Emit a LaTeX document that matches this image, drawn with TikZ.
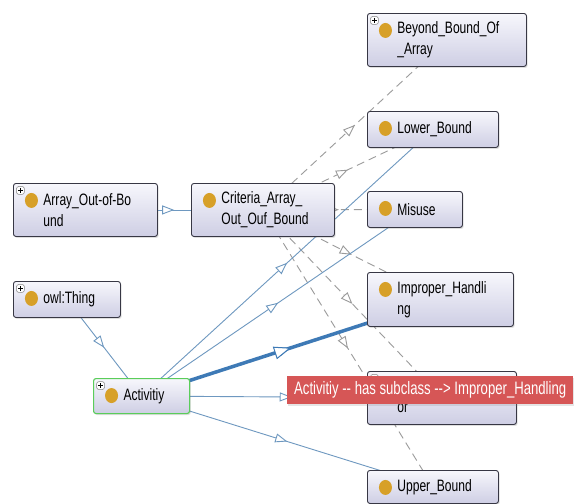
\documentclass[tikz,border=0pt]{standalone}
\usepackage{fontspec}
\setmainfont{Liberation Sans}[FakeStretch=0.73]
\usetikzlibrary{arrows.meta,decorations.markings,backgrounds,shadows}
\definecolor{boxline}{RGB}{55,55,68}
\definecolor{boxtop}{RGB}{247,247,252}
\definecolor{boxbot}{RGB}{206,206,228}
\definecolor{dotcol}{RGB}{215,160,40}
\definecolor{edgeblue}{RGB}{110,152,192}
\definecolor{hlblue}{RGB}{62,122,182}
\definecolor{dashgray}{RGB}{155,155,155}
\definecolor{actgreen}{RGB}{90,205,90}
\definecolor{tipred}{RGB}{214,86,86}

\begin{document}
\begin{tikzpicture}[x=1pt,y=-1pt,
  cls/.style={draw=boxline,line width=0.9pt,rounded corners=2.5pt,top color=boxtop,bottom color=boxbot,
    anchor=north west,align=left,inner xsep=6pt,inner ysep=0pt,font=\fontsize{16.5}{21}\selectfont,
    execute at begin node={\leftskip=24pt},
    drop shadow={opacity=0.25,shadow xshift=1.2pt,shadow yshift=-1.5pt},
    path picture={\fill[dotcol] ([xshift=18pt,yshift=-17pt]path picture bounding box.north west) ellipse (6.5pt and 7.5pt);}},
  clsplus/.style={cls,
    path picture={\fill[dotcol] ([xshift=18pt,yshift=-17pt]path picture bounding box.north west) ellipse (6.5pt and 7.5pt);
      \draw[fill=white,draw=gray,line width=0.5pt] ([xshift=3pt,yshift=-3pt]path picture bounding box.north west) rectangle ++(8pt,-8pt);
      \draw[black,line width=0.6pt] ([xshift=7pt,yshift=-4.5pt]path picture bounding box.north west) -- ++(0pt,-5pt)
        ([xshift=4.5pt,yshift=-7pt]path picture bounding box.north west) -- ++(5pt,0pt);}},
  tipbox/.style={fill=tipred,text=white,anchor=north west,minimum width=286pt,minimum height=28pt,
    inner xsep=5pt,font=\fontsize{18}{20}\selectfont,drop shadow={opacity=0.2,shadow xshift=1pt,shadow yshift=-1.5pt}},
  sub/.style={edgeblue,line width=0.9pt,postaction={decorate},
    decoration={markings,mark=at position 0.5 with {\arrow{Triangle[fill=white,length=12pt,width=9pt,line width=0.9pt]}}}},
  subhl/.style={sub,hlblue,line width=3.5pt,
    decoration={markings,mark=at position 0.5 with {\arrow{Triangle[fill=white,length=17pt,width=13pt,line width=1pt]}}}},
  subdash/.style={sub,dashgray,dash pattern=on 8pt off 5pt}]
        \useasboundingbox (0,0) rectangle (574,504);
        % classes, right column
        \node[clsplus,text width=147pt,minimum height=53pt] (beyond) at (367,13) {Beyond\_Bound\_Of\\\_Array};
        \node[cls,text width=119pt,minimum height=36pt] (lower) at (367,111) {Lower\_Bound};
        \node[cls,text width=83pt,minimum height=36pt] (misuse) at (367,191) {Misuse};
        \node[cls,text width=134pt,minimum height=54pt] (improper) at (367,272) {Improper\_Handli\\ng};
        \node[clsplus,text width=137pt,minimum height=53pt] (boundserr) at (367,371) {\vphantom{Ig}\\or\vphantom{g}};
        \node[cls,text width=119pt,minimum height=33pt] (upper) at (367,470) {Upper\_Bound};
        % classes, left side
        \node[clsplus,text width=132pt,minimum height=53pt] (arrayoob) at (13,183) {Array\_Out-of-Bo\\und};
        \node[cls,text width=131pt,minimum height=53pt] (criteria) at (191,183) {Criteria\_Array\_\\Out\_Ouf\_Bound};
        \node[clsplus,text width=95pt,minimum height=36pt] (thing) at (13,281) {owl:Thing};
        \node[clsplus,draw=actgreen,line width=1.1pt,text width=84pt,minimum height=35pt] (act) at (93,378) {Activitiy};
        % subclass links
        \begin{scope}[on background layer]
        \fill[white] (0,0) rectangle (574,504);
        \draw[sub] (arrayoob.center) -- (criteria.center);
        \draw[sub] (thing.center) -- (act.center);
        \draw[subdash] (criteria.center) -- (beyond.center);
        \draw[subdash] (criteria.center) -- (lower.center);
        \draw[subdash] (criteria.center) -- (misuse.center);
        \draw[subdash] (criteria.center) -- (improper.center);
        \draw[subdash] (criteria.center) -- (boundserr.center);
        \draw[subdash] (criteria.center) -- (upper.center);
        \draw[sub] (act.center) -- (lower.center);
        \draw[sub] (act.center) -- (misuse.center);
        \draw[sub] (act.center) -- (boundserr.center);
        \draw[sub] (act.center) -- (upper.center);
        \draw[subhl] (act.center) -- (improper.center);
        \end{scope}
        % tooltip
        \node[tipbox] (tip) at (287,376) {Activitiy -{}- has subclass -{}-> Improper\_Handling};
    \end{tikzpicture}
\end{document}
